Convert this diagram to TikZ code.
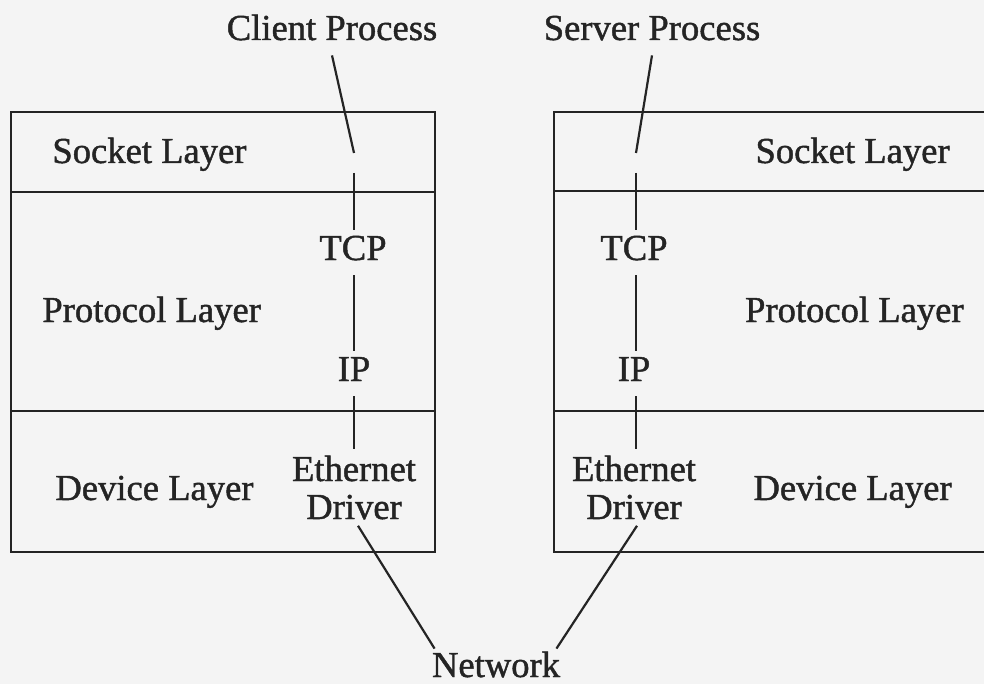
\documentclass[tikz,border=0pt]{standalone}
\usepackage{fontspec}
\setmainfont{Liberation Serif}
\newfontfamily\inkfont{Liberation Serif}[FakeBold=1.2]
\usetikzlibrary{calc}
\definecolor{ink}{HTML}{242424}
\definecolor{paper}{HTML}{F4F4F4}
\begin{document}
\begin{tikzpicture}[x=0.5pt,y=-0.5pt,
  basetext/.style={text=ink,font=\inkfont\fontsize{18.3}{19}\selectfont},
  lbl/.style={basetext,inner sep=3pt,text depth=4.5pt,text height=12pt},
  twoline/.style={basetext,inner sep=3pt,align=center},
  tag/.style={lbl,inner sep=0pt},
  boxline/.style={draw=ink,line width=1.3pt},
  link/.style={draw=ink,line width=1.1pt}]
\fill[paper] (0,0) rectangle (984,684);
\useasboundingbox (0,0) rectangle (984,684);
% boxes
\draw[boxline] (11,112) rectangle (435,552);
\draw[boxline] (11,192) -- (435,192);
\draw[boxline] (11,411) -- (435,411);
\draw[boxline] (986,112) -- (554,112) -- (554,552) -- (986,552);
\draw[boxline] (554,191) -- (986,191);
\draw[boxline] (554,411) -- (986,411);
% layer labels
\node[tag,anchor=base west] (sockL) at (52,163) {Socket Layer};
\node[tag,anchor=base west] (protL) at (42,322) {Protocol Layer};
\node[tag,anchor=base west] (devL) at (55,500) {Device Layer};
\node[tag,anchor=base east] (sockR) at (950,163) {Socket Layer};
\node[tag,anchor=base east] (protR) at (964,322) {Protocol Layer};
\node[tag,anchor=base east] (devR) at (952,500) {Device Layer};
% stack labels
\node[lbl,anchor=base] (client) at (332,40) {Client Process};
\node[lbl,anchor=base] (server) at (652,40) {Server Process};
\node[lbl,anchor=base] (tcpL) at (353,260) {TCP};
\node[lbl,anchor=base] (tcpR) at (634,260) {TCP};
\node[lbl,anchor=base] (ipL) at (354,381) {IP};
\node[lbl,anchor=base] (ipR) at (634,381) {IP};
\node[twoline,anchor=base] (drvL) at (354,519) {Ethernet\\Driver};
\node[twoline,anchor=base] (drvR) at (634,519) {Ethernet\\Driver};
\node[lbl,anchor=base] (net) at (496,677) {Network};
% gap points in socket layer
\coordinate (lgapA) at (354,153);
\coordinate (lgapB) at (354,173);
\coordinate (rgapA) at (636,153);
\coordinate (rgapB) at (636,173);
% connectors
\draw[link] (client.south) -- (lgapA);
\draw[link] (lgapB) -- (lgapB |- tcpL.north);
\draw[link] (lgapB |- tcpL.south) -- (lgapB |- ipL.north);
\draw[link] (lgapB |- ipL.south) -- (lgapB |- drvL.north);
\draw[link] ($(drvL.south)+(4,0)$) -- ($(net.north west)+(9,2)$);
\draw[link] (server.south) -- (rgapA);
\draw[link] (rgapB) -- (rgapB |- tcpR.north);
\draw[link] (rgapB |- tcpR.south) -- (rgapB |- ipR.north);
\draw[link] (rgapB |- ipR.south) -- (rgapB |- drvR.north);
\draw[link] ($(drvR.south)+(3,0)$) -- ($(net.north east)+(-10,2)$);
\end{tikzpicture}
\end{document}
